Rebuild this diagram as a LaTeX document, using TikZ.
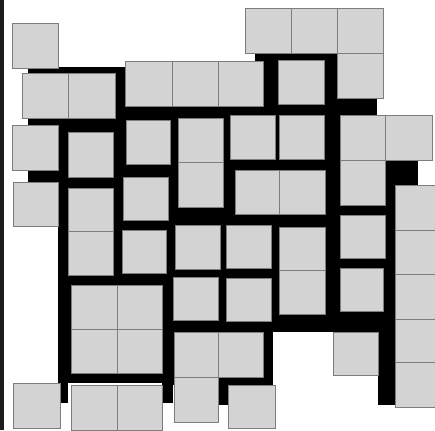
\documentclass[tikz,border=0pt]{standalone}
\usepackage{xcolor}

\definecolor{tilegray}{RGB}{211,211,211}
\definecolor{edgegray}{RGB}{125,125,125}
\definecolor{stripgray}{RGB}{28,28,28}

\begin{document}
\begin{tikzpicture}[
    x=1pt, y=-1pt,
    tile/.style={fill=tilegray, draw=edgegray, line width=0.8pt},
    mortar/.style={fill=black, draw=none},
    frame/.style={fill=white, draw=none}
  ]

    % canvas and left border strip
    \fill[frame] (0,0) rectangle (435,430);
    \useasboundingbox (0,0) rectangle (435,430);
    \fill[stripgray] (0,0) rectangle (4,430);

    % black mortar behind the tiles
    \foreach \xa/\ya/\xb/\yb in {
        28/67/125/130, 28/170/58/182,
        255/53/337/118, 337/98/377/118,
        113/106/377/118,
        58/115/395/332,
        58/332/173/383, 58/383/68/403, 162/383/173/403,
        173/332/273/385, 218/385/228/405,
        378/332/395/405, 385/160/418/185}
      \fill[mortar] (\xa,\ya) rectangle (\xb,\yb);

    % top tiles
    \foreach \xa/\ya/\xb/\yb in {
        12/23/58/68,
        245/8/291/53, 291/8/337/53, 337/8/383/53, 337/53/383/98}
      \draw[tile] (\xa,\ya) rectangle (\xb,\yb);

    % second row
    \foreach \xa/\ya/\xb/\yb in {
        22/73/68/118, 68/73/115/118,
        125/61/172/106, 172/61/218/106, 218/61/263/106,
        278/60/324/104}
      \draw[tile] (\xa,\ya) rectangle (\xb,\yb);

    % third row
    \foreach \xa/\ya/\xb/\yb in {
        12/125/58/170, 68/132/113/177, 126/120/170/164,
        178/118/223/162, 178/162/223/207,
        230/115/275/159, 279/115/324/159,
        340/115/385/160, 385/115/432/160, 340/160/385/205}
      \draw[tile] (\xa,\ya) rectangle (\xb,\yb);

    % fourth row
    \foreach \xa/\ya/\xb/\yb in {
        13/182/58/226, 68/188/113/231, 68/231/113/275,
        123/177/168/220, 235/170/279/214, 279/170/325/214,
        340/215/385/258, 340/268/383/311}
      \draw[tile] (\xa,\ya) rectangle (\xb,\yb);

    % right column
    \foreach \ya/\yb in {185/230, 230/274, 274/319, 319/362, 362/407}
      \draw[tile] (395,\ya) rectangle (435,\yb);

    % fifth row
    \foreach \xa/\ya/\xb/\yb in {
        122/230/166/273, 175/225/220/269, 226/225/271/268,
        279/227/325/270, 279/270/325/314,
        173/277/218/320, 226/278/271/321}
      \draw[tile] (\xa,\ya) rectangle (\xb,\yb);

    % 2x2 block and lower tiles
    \foreach \xa/\ya/\xb/\yb in {
        71/285/117/329, 117/285/162/329, 71/329/117/373, 117/329/162/373,
        174/332/218/377, 218/332/263/377, 174/377/218/422,
        228/385/275/428, 333/332/378/375}
      \draw[tile] (\xa,\ya) rectangle (\xb,\yb);

    % bottom row
    \foreach \xa/\ya/\xb/\yb in {
        13/383/60/428, 71/385/117/430, 117/385/162/430}
      \draw[tile] (\xa,\ya) rectangle (\xb,\yb);

  \end{tikzpicture}
\end{document}
